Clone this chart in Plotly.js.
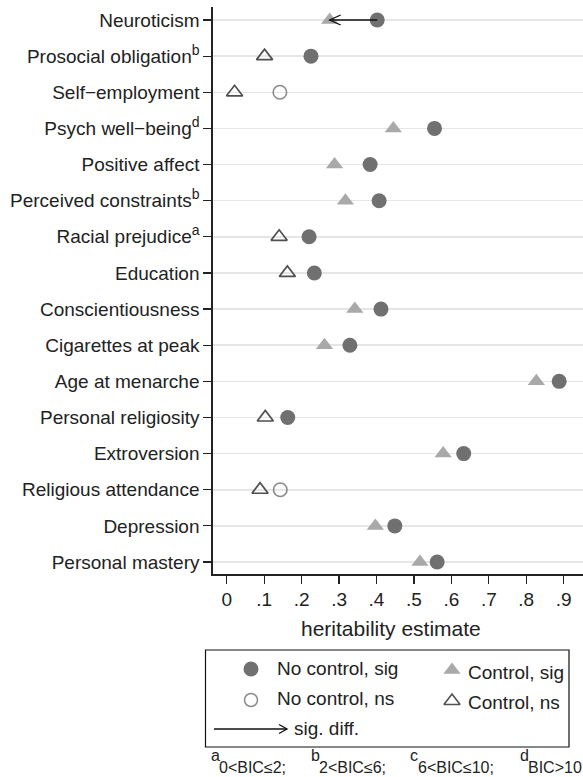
<!DOCTYPE html>
<html>
<head>
<meta charset="utf-8">
<script src="https://cdn.plot.ly/plotly-3.0.1.min.js"></script>
<style>html,body{margin:0;padding:0;background:#fff;}#chart{width:583px;height:777px;}</style>
</head>
<body>
<div id="chart"></div>
<script>
// ---- data ----
var categories = ["Neuroticism","Prosocial obligation","Self\u2212employment","Psych well\u2212being","Positive affect","Perceived constraints","Racial prejudice","Education","Conscientiousness","Cigarettes at peak","Age at menarche","Personal religiosity","Extroversion","Religious attendance","Depression","Personal mastery"];
var bicNote = ["","b","","d","","b","a","","","","","","","","",""];
var noControl = [0.402,0.225,0.142,0.555,0.383,0.407,0.220,0.234,0.412,0.329,0.888,0.163,0.633,0.143,0.449,0.562];
var noControlSig = [1,1,0,1,1,1,1,1,1,1,1,1,1,0,1,1];
var control = [0.275,0.101,0.021,0.445,0.288,0.317,0.140,0.162,0.342,0.261,0.827,0.103,0.578,0.089,0.397,0.516];
var controlSig = [1,0,0,1,1,1,0,0,1,1,1,0,1,0,1,1];
var sigDiff = [1,0,0,0,0,0,0,0,0,0,0,0,0,0,0,0];
var xTickVals = [0,0.1,0.2,0.3,0.4,0.5,0.6,0.7,0.8,0.9];
var xTickText = ["0",".1",".2",".3",".4",".5",".6",".7",".8",".9"];
var legendLabels = ["No control, sig","No control, ns","Control, sig","Control, ns","sig. diff."];
var footLetters = ["a","b","c","d"];
var footRanges = ["0&lt;BIC\u22642;","2&lt;BIC\u22646;","6&lt;BIC\u226410;","BIC&gt;10"];
var xTitle = "heritability estimate";

// ---- styles ----
var FONT = "Liberation Sans, Arial, Helvetica, sans-serif";
var TXT = "#222222";
var C_SIG = "#707070", T_SIG = "#a9a9a9", C_NS = "#8a8a8a", T_NS = "#4f4f4f";
var W = 583, H = 777;

var idx = categories.map(function(_, i){ return i; });
var tickText = categories.map(function(c, i){
  return bicNote[i] ? c + "<sup><span style='color:" + TXT + ";font-size:14px'>" + bicNote[i] + "</span></sup>" : c;
});
function pick(vals, flags, want){ var x=[], y=[]; vals.forEach(function(v,i){ if(!!flags[i]===want){ x.push(v); y.push(i);} }); return {x:x,y:y}; }

var cs = pick(control, controlSig, true), cn = pick(control, controlSig, false);
var ns = pick(noControl, noControlSig, true), nn = pick(noControl, noControlSig, false);

var traces = [
  {type:"scatter", mode:"markers", x:cs.x, y:cs.y, xaxis:"x", yaxis:"y",
   marker:{symbol:"triangle-up", size:15, color:T_SIG, line:{width:0}}},
  {type:"scatter", mode:"markers", x:cn.x, y:cn.y, xaxis:"x", yaxis:"y",
   marker:{symbol:"triangle-up-open", size:14, color:T_NS, line:{width:1.7, color:T_NS}}},
  {type:"scatter", mode:"markers", x:ns.x, y:ns.y, xaxis:"x", yaxis:"y",
   marker:{symbol:"circle", size:15, color:C_SIG, line:{width:0}}},
  {type:"scatter", mode:"markers", x:nn.x, y:nn.y, xaxis:"x", yaxis:"y",
   marker:{symbol:"circle-open", size:13.5, color:C_NS, line:{width:1.6, color:C_NS}}}
];

// legend keys (pixel overlay)
var LG = {box:[205.5,650,569,747], col1:251, col2:452, txt1:275, txt2:466, rows:[669,700,729]};
traces.push({type:"scatter", mode:"markers", xaxis:"x2", yaxis:"y2", cliponaxis:false,
  x:[LG.col1], y:[LG.rows[0]], marker:{symbol:"circle", size:15, color:C_SIG, line:{width:0}}});
traces.push({type:"scatter", mode:"markers", xaxis:"x2", yaxis:"y2", cliponaxis:false,
  x:[LG.col1], y:[LG.rows[1]], marker:{symbol:"circle-open", size:13, color:C_NS, line:{width:1.5, color:C_NS}}});
traces.push({type:"scatter", mode:"markers", xaxis:"x2", yaxis:"y2", cliponaxis:false,
  x:[LG.col2], y:[LG.rows[0]+1], marker:{symbol:"triangle-up", size:15, color:T_SIG, line:{width:0}}});
traces.push({type:"scatter", mode:"markers", xaxis:"x2", yaxis:"y2", cliponaxis:false,
  x:[LG.col2], y:[LG.rows[1]+1], marker:{symbol:"triangle-up-open", size:14, color:T_NS, line:{width:1.6, color:T_NS}}});

var shapes = [
  {type:"rect", xref:"x2", yref:"y2", x0:LG.box[0], y0:LG.box[1], x1:LG.box[2], y1:LG.box[3],
   line:{color:"#111", width:1.2}, fillcolor:"rgba(0,0,0,0)", layer:"above"},
  {type:"line", xref:"x2", yref:"y2", x0:214, y0:LG.rows[2], x1:287, y1:LG.rows[2], line:{color:"#111", width:1.3}},
  {type:"path", xref:"x2", yref:"y2", path:"M279,"+(LG.rows[2]-4.5)+" L287,"+LG.rows[2]+" L279,"+(LG.rows[2]+4.5),
   line:{color:"#111", width:1.3}}
];
// significant-difference arrows from no-control to control estimate
var dxU = 11/374.4, dyU = 5/36.13;
sigDiff.forEach(function(f, i){
  if(!f) return;
  var tip = control[i], from = noControl[i];
  shapes.push({type:"line", xref:"x", yref:"y", x0:from, y0:i, x1:tip, y1:i, line:{color:"#111", width:1.3}, layer:"above"});
  shapes.push({type:"path", xref:"x", yref:"y", layer:"above",
    path:"M"+(tip+dxU)+","+(i-dyU)+" L"+tip+","+i+" L"+(tip+dxU)+","+(i+dyU), line:{color:"#111", width:1.3}});
});

var annotations = [
  {xref:"x2", yref:"y2", x:391, y:628, text:xTitle, showarrow:false, font:{family:FONT, size:21, color:TXT}, xanchor:"center", yanchor:"middle"},
  {xref:"x2", yref:"y2", x:LG.txt1, y:LG.rows[0]-1, text:legendLabels[0], showarrow:false, xanchor:"left", yanchor:"middle", font:{family:FONT,size:19,color:TXT}},
  {xref:"x2", yref:"y2", x:LG.txt1, y:LG.rows[1]-2, text:legendLabels[1], showarrow:false, xanchor:"left", yanchor:"middle", font:{family:FONT,size:19,color:TXT}},
  {xref:"x2", yref:"y2", x:LG.txt2, y:LG.rows[0]+3, text:legendLabels[2], showarrow:false, xanchor:"left", yanchor:"middle", font:{family:FONT,size:19,color:TXT}},
  {xref:"x2", yref:"y2", x:LG.txt2, y:LG.rows[1]+2, text:legendLabels[3], showarrow:false, xanchor:"left", yanchor:"middle", font:{family:FONT,size:19,color:TXT}},
  {xref:"x2", yref:"y2", x:292, y:LG.rows[2]-1, text:legendLabels[4], showarrow:false, xanchor:"left", yanchor:"middle", font:{family:FONT,size:19,color:TXT}}
];
var footX = [209, 309, 408, 518];
footLetters.forEach(function(l, i){
  annotations.push({xref:"x2", yref:"y2", x:footX[i], y:755, text:l, showarrow:false, xanchor:"left", yanchor:"middle", font:{family:FONT,size:16,color:TXT}});
  annotations.push({xref:"x2", yref:"y2", x:footX[i]+8, y:767, text:footRanges[i], showarrow:false, xanchor:"left", yanchor:"middle", font:{family:FONT,size:16,color:TXT}});
});

var layout = {
  width:W, height:H, margin:{l:0,r:0,t:0,b:0}, paper_bgcolor:"#fff", plot_bgcolor:"rgba(0,0,0,0)",
  showlegend:false, hovermode:false, font:{family:FONT, color:TXT, size:19},
  xaxis:{domain:[212.5/W, 1], range:[-0.038, 0.9516], tickvals:xTickVals, ticktext:xTickText,
    showgrid:false, zeroline:false, showline:true, linecolor:"#222", linewidth:1.2,
    ticks:"outside", ticklen:8, tickcolor:"#222", tickwidth:1.2, tickfont:{family:FONT, size:19, color:TXT}, anchor:"y", fixedrange:true},
  yaxis:{domain:[(H-574.3)/H, (H-7)/H], range:[15.34, -0.36], tickvals:idx, ticktext:tickText,
    showgrid:true, gridcolor:"#e6e6e6", gridwidth:1.5, zeroline:false, showline:true, linecolor:"#222", linewidth:1.2,
    ticks:"outside", ticklen:8, tickcolor:"#222", tickwidth:1.2, tickfont:{family:FONT, size:19, color:TXT}, anchor:"x", fixedrange:true},
  xaxis2:{domain:[0,1], range:[0,W], visible:false, anchor:"y2", fixedrange:true},
  yaxis2:{domain:[0,1], range:[H,0], visible:false, anchor:"x2", fixedrange:true},
  shapes:shapes, annotations:annotations
};

Plotly.newPlot("chart", traces, layout, {displayModeBar:false, staticPlot:true});
</script>
</body>
</html>
